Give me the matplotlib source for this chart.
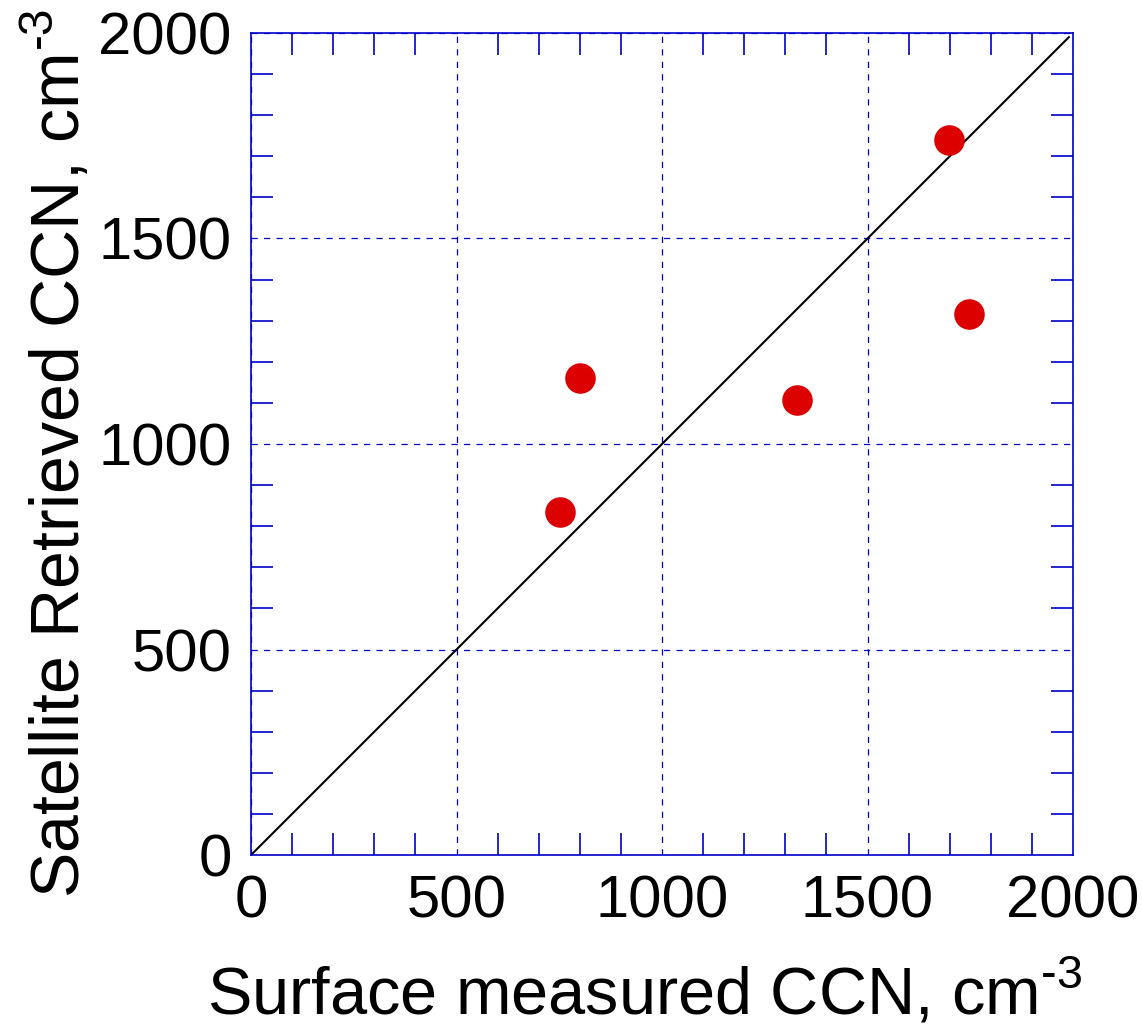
import matplotlib
matplotlib.use("Agg")
import matplotlib.pyplot as plt
from matplotlib.ticker import MultipleLocator

plt.rcParams['font.family'] = ['Liberation Sans', 'DejaVu Sans']
plt.rcParams['mathtext.fontset'] = 'custom'
plt.rcParams['mathtext.rm'] = 'Liberation Sans'
plt.rcParams['mathtext.sf'] = 'Liberation Sans'

# surface measured vs satellite retrieved CCN (cm^-3)
surface_ccn = [752, 800, 1328, 1698, 1747]
satellite_ccn = [835, 1161, 1107, 1740, 1316]
one_to_one = [0, 1990]

fig = plt.figure(figsize=(11.42, 10.31), dpi=100)
ax = fig.add_axes([0.2198, 0.1707, 0.7198, 0.7973])

ax.plot(one_to_one, one_to_one, color='black', lw=1.5, zorder=2)
ax.plot(surface_ccn, satellite_ccn, 'o', color='#dd0000', ms=22, mec='none', zorder=3)

ax.set_xlim(0, 2000)
ax.set_ylim(0, 2000)
ax.xaxis.set_major_locator(MultipleLocator(500))
ax.yaxis.set_major_locator(MultipleLocator(500))
ax.xaxis.set_minor_locator(MultipleLocator(100))
ax.yaxis.set_minor_locator(MultipleLocator(100))
ax.grid(True, which='major', color='#0000cc', ls=(0, (5, 5)), lw=0.9)
for s in ax.spines.values():
    s.set_color('#0000cc')
    s.set_linewidth(1.2)
ax.tick_params(which='both', direction='in', top=True, right=True, color='#0000cc', width=1.2)
ax.tick_params(which='minor', length=16)
ax.tick_params(which='major', length=0, labelsize=43, pad=14)

sup = '$^{\\mathregular{\u20103}}$'
ax.set_xlabel('Surface measured CCN, cm' + sup, fontsize=48, labelpad=20)
ax.set_ylabel('Satellite Retrieved CCN, cm' + sup, fontsize=49, labelpad=3)
ax.xaxis.label.set_x(0.479)
ax.yaxis.label.set_y(0.489)

fig.savefig('out.png', dpi=100)
